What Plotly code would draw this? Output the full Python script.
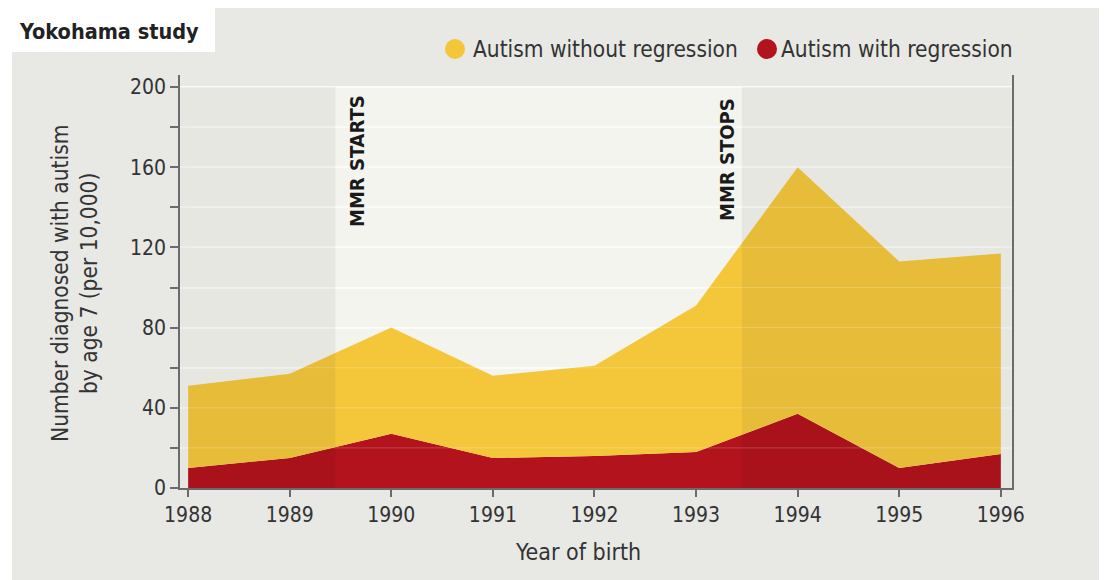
import plotly.graph_objects as go

# Yokohama study: autism diagnoses by age 7 (per 10,000), by year of birth
years = [1988, 1989, 1990, 1991, 1992, 1993, 1994, 1995, 1996]
with_regression = [10, 15, 27, 15, 16, 18, 37, 10, 17]
without_regression = [41, 42, 53, 41, 45, 73, 123, 103, 100]
y_ticks = [0, 40, 80, 120, 160, 200]

mmr_start = 1989.45
mmr_stop = 1993.45

FONT = "Liberation Sans Narrow, DejaVu Sans Condensed, Arial Narrow, Roboto Condensed, sans-serif"
TEXT = "#333333"
YELLOW = "#f4c73b"
RED = "#b3131c"
PANEL = "#e8e8e4"
LIGHT = "#f4f4ef"

# page body has an 8px margin, so the figure sits 8px in from the top-left
OFF = 8
W, H = 1107 - OFF, 580 - OFF
L, R, T, B = 180 - OFF, 95, 75 - OFF, 92
PW, PH = 1012 - 180, 488 - 75


def px(p):
    return (p - 180) / PW


def py(p):
    return (488 - p) / PH


fig = go.Figure()

fig.add_trace(go.Scatter(
    x=years, y=with_regression, name="Autism with regression",
    stackgroup="one", mode="none", fillcolor=RED,
    hovertemplate="%{x}: %{y}<extra>with regression</extra>"
))
fig.add_trace(go.Scatter(
    x=years, y=without_regression, name="Autism without regression",
    stackgroup="one", mode="none", fillcolor=YELLOW,
    hovertemplate="%{x}: %{y}<extra>without regression</extra>"
))

shapes = [
    # grey panel with a notch for the title
    dict(type="rect", xref="paper", yref="paper", x0=px(12), x1=px(1102),
         y0=py(580), y1=py(52), fillcolor=PANEL, line_width=0, layer="below"),
    dict(type="rect", xref="paper", yref="paper", x0=px(215), x1=px(1102),
         y0=py(52), y1=py(8), fillcolor=PANEL, line_width=0, layer="below"),
    # light plot area, darkened outside the MMR period
    dict(type="rect", xref="x", yref="y", x0=1987.92, x1=1996.11, y0=0, y1=200,
         fillcolor=LIGHT, line_width=0, layer="below"),
    dict(type="rect", xref="x", yref="y", x0=1987.92, x1=mmr_start, y0=0, y1=200,
         fillcolor="black", opacity=0.05, line_width=0, layer="above"),
    dict(type="rect", xref="x", yref="y", x0=mmr_stop, x1=1996.11, y0=0, y1=200,
         fillcolor="black", opacity=0.05, line_width=0, layer="above"),
    # legend dots
    dict(type="circle", xref="paper", yref="paper", x0=px(445), x1=px(465),
         y0=py(59), y1=py(39), fillcolor=YELLOW, line_width=0),
    dict(type="circle", xref="paper", yref="paper", x0=px(757), x1=px(777),
         y0=py(59), y1=py(39), fillcolor=RED, line_width=0),
]
# faint gridlines showing through the fills
for v in range(20, 201, 20):
    shapes.append(dict(type="line", xref="x", yref="y", x0=1988, x1=1996, y0=v, y1=v,
                       line=dict(color="white", width=1), opacity=0.2, layer="above"))

annotations = [
    dict(text="<b>Yokohama study</b>", xref="paper", yref="paper", x=px(17), y=py(31),
         xanchor="left", yanchor="middle", showarrow=False,
         font=dict(family=FONT, size=21.5, color="#222222")),
    dict(text="Autism without regression", xref="paper", yref="paper", x=px(471), y=py(49),
         xanchor="left", yanchor="middle", showarrow=False,
         font=dict(family=FONT, size=22.5, color=TEXT)),
    dict(text="Autism with regression", xref="paper", yref="paper", x=px(779), y=py(49),
         xanchor="left", yanchor="middle", showarrow=False,
         font=dict(family=FONT, size=22.5, color=TEXT)),
    dict(text="<b>MMR STARTS</b>", xref="paper", yref="paper", x=px(357), y=py(161),
         textangle=-90, xanchor="center", yanchor="middle", showarrow=False,
         font=dict(family=FONT, size=20, color="#1a1a1a")),
    dict(text="<b>MMR STOPS</b>", xref="paper", yref="paper", x=px(727), y=py(160),
         textangle=-90, xanchor="center", yanchor="middle", showarrow=False,
         font=dict(family=FONT, size=20, color="#1a1a1a")),
    dict(text="Number diagnosed with autism<br>by age 7 (per 10,000)", xref="paper", yref="paper",
         x=px(74), y=py(284), textangle=-90, xanchor="center", yanchor="middle",
         showarrow=False, font=dict(family=FONT, size=22.5, color=TEXT)),
    dict(text="Year of birth", xref="paper", yref="paper", x=px(578), y=py(552),
         xanchor="center", yanchor="middle", showarrow=False,
         font=dict(family=FONT, size=23, color=TEXT)),
]

fig.update_layout(
    width=W, height=H,
    margin=dict(l=L, r=R, t=T, b=B),
    paper_bgcolor="white",
    plot_bgcolor=PANEL,
    showlegend=False,
    shapes=shapes,
    annotations=annotations,
    font=dict(family=FONT, size=21, color=TEXT),
)

fig.update_xaxes(
    range=[1987.92, 1996.11], tickvals=years, ticktext=[str(y) for y in years],
    showgrid=False, zeroline=False,
    showline=True, linecolor="#6b6b6b", linewidth=1.5,
    ticks="outside", ticklen=7, tickcolor="#6b6b6b", tickwidth=1.5,
    tickfont=dict(family=FONT, size=21, color=TEXT),
)
fig.update_yaxes(
    range=[0, 206], tickvals=y_ticks, showgrid=True, gridcolor="#fafaf8", gridwidth=1.5,
    zeroline=False, showline=True, mirror=True, linecolor="#6b6b6b", linewidth=1.5,
    ticks="outside", ticklen=8, tickcolor="#6b6b6b", tickwidth=1.5,
    tickfont=dict(family=FONT, size=21, color=TEXT),
    minor=dict(dtick=20, tick0=0, ticks="outside", ticklen=8, tickcolor="#6b6b6b",
               showgrid=True, gridcolor="#fafaf8", gridwidth=1.5),
)

fig.write_html("out.html")
